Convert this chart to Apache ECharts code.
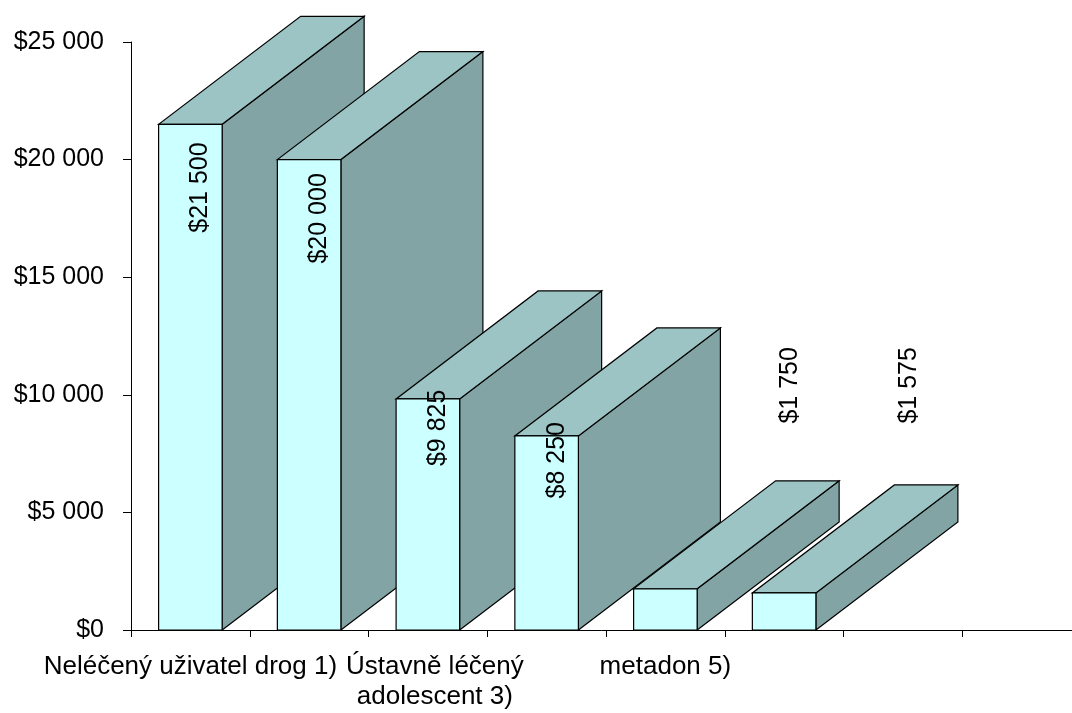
<!DOCTYPE html>
<html>
<head>
<meta charset="utf-8">
<script src="https://cdn.jsdelivr.net/npm/echarts@6/dist/echarts.min.js"></script>
<style>
  html, body { margin: 0; padding: 0; background: #fff; }
  #chart { width: 1072px; height: 713px; }
</style>
</head>
<body>
<div id="chart"></div>
<script>
// Annual cost per person (USD)
const categories = [
  'Neléčený uživatel drog 1)',
  '',
  'Ústavně léčený\nadolescent 3)',
  '',
  'metadon 5)',
  '',
  '',
  ''
];
const costs = [21500, 20000, 9825, 8250, 1750, 1575];
const yTicks = [0, 5000, 10000, 15000, 20000, 25000];

// Styling of the extruded columns
const FRONT = '#CCFFFF';
const TOP = '#9CC4C4';
const SIDE = '#82A4A4';
const EDGE = '#000000';
const DEPTH_X = 142;   // px offset of the back face
const DEPTH_Y = -108;
const BAR_RATIO = 0.535;
const FONT = '"Liberation Sans", Arial, sans-serif';
const LABEL_LEVEL_OUTSIDE = 10400; // height used for labels of short columns

function money(v) {
  return '$' + String(v).replace(/\B(?=(\d{3})+(?!\d))/g, ' ');
}

// wrapped category labels sit a little right of the column centre
const categoryData = categories.map(c => c.indexOf('\n') >= 0
  ? { value: c, textStyle: { padding: [0, 0, 0, 14] } }
  : c);

const chart = echarts.init(document.getElementById('chart'), null, { renderer: 'canvas' });

chart.setOption({
  animation: false,
  backgroundColor: '#ffffff',
  grid: {
    left: 131, top: 42, width: 950, height: 588,
    containLabel: false, outerBoundsMode: 'none'
  },
  xAxis: {
    type: 'category',
    data: categoryData,
    boundaryGap: true,
    axisLine: { lineStyle: { color: '#000', width: 1 } },
    axisTick: { show: true, length: 7, lineStyle: { color: '#000' } },
    axisLabel: {
      interval: 0,
      color: '#000',
      fontFamily: FONT,
      fontSize: 26,
      lineHeight: 30,
      margin: 22,
      align: 'center'
    },
    splitLine: { show: false }
  },
  yAxis: {
    type: 'value',
    min: yTicks[0],
    max: yTicks[yTicks.length - 1],
    interval: yTicks[1] - yTicks[0],
    axisLine: { show: true, lineStyle: { color: '#000', width: 1 } },
    axisTick: { show: true, length: 8, lineStyle: { color: '#000' } },
    axisLabel: {
      color: '#000',
      fontFamily: FONT,
      fontSize: 25,
      margin: 27,
      formatter: v => money(v)
    },
    splitLine: { show: false }
  },
  series: [{
    type: 'custom',
    clip: false,
    data: costs.map((v, i) => [i, v]),
    encode: { x: 0, y: 1 },
    renderItem: function (params, api) {
      const idx = api.value(0);
      const val = api.value(1);
      const base = api.coord([idx, 0]);
      const top = api.coord([idx, val]);
      const bw = api.size([1, 0])[0] * BAR_RATIO;
      const x0 = base[0] - bw / 2;
      const x1 = base[0] + bw / 2;
      const yb = base[1];
      const yt = top[1];
      const dx = DEPTH_X, dy = DEPTH_Y;
      const strokeStyle = { stroke: EDGE, lineWidth: 1.2, lineJoin: 'miter' };

      const side = {
        type: 'polygon',
        shape: { points: [[x1, yt], [x1 + dx, yt + dy], [x1 + dx, yb + dy], [x1, yb]] },
        style: Object.assign({ fill: SIDE }, strokeStyle)
      };
      const lid = {
        type: 'polygon',
        shape: { points: [[x0, yt], [x1, yt], [x1 + dx, yt + dy], [x0 + dx, yt + dy]] },
        style: Object.assign({ fill: TOP }, strokeStyle)
      };
      const front = {
        type: 'rect',
        shape: { x: x0, y: yt, width: bw, height: yb - yt },
        style: Object.assign({ fill: FRONT }, strokeStyle)
      };

      // value label, reading bottom-to-top
      const frontH = yb - yt;
      let lx, ly;
      if (frontH > 120) {
        lx = base[0] + 10;
        ly = api.coord([idx, val * 0.875])[1];
      } else {
        lx = base[0] + 125;
        ly = api.coord([idx, LABEL_LEVEL_OUTSIDE])[1];
      }
      const label = {
        type: 'text',
        x: lx,
        y: ly,
        rotation: Math.PI / 2,
        style: {
          text: money(val),
          fill: '#000',
          fontFamily: FONT,
          fontSize: 25,
          align: 'center',
          verticalAlign: 'middle'
        },
        z2: 10
      };

      return { type: 'group', children: [side, lid, front, label] };
    }
  }]
});
</script>
</body>
</html>
